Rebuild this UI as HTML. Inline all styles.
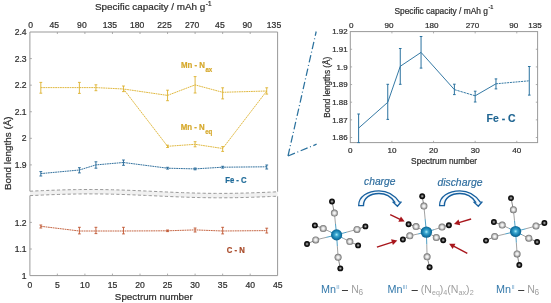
<!DOCTYPE html>
<html><head><meta charset="utf-8"><style>
html,body{margin:0;padding:0;background:#fff;}
svg{display:block;filter:blur(0.4px);}
text{font-family:"Liberation Sans", sans-serif;}
</style></head><body>
<svg width="551" height="303" viewBox="0 0 551 303">
<rect width="551" height="303" fill="#fff"/>
<path d="M29.9,191.22 V32.0 H277.6 V191.80" fill="none" stroke="#999999" stroke-width="1"/>
<path d="M29.9,195.62 V275.6 H277.6 V196.20" fill="none" stroke="#999999" stroke-width="1"/>
<polygon points="29.90,191.22 34.03,191.03 38.16,190.84 42.28,190.66 46.41,190.49 50.54,190.32 54.67,190.17 58.80,190.03 62.93,189.90 67.06,189.79 71.18,189.70 75.31,189.62 79.44,189.56 83.57,189.52 87.70,189.50 91.83,189.50 95.95,189.52 100.08,189.56 104.21,189.61 108.34,189.69 112.47,189.78 116.59,189.89 120.72,190.01 124.85,190.15 128.98,190.30 133.11,190.47 137.24,190.64 141.37,190.82 145.49,191.01 149.62,191.20 153.75,191.39 157.88,191.59 162.01,191.78 166.14,191.97 170.26,192.15 174.39,192.33 178.52,192.50 182.65,192.66 186.78,192.80 190.91,192.94 195.03,193.06 199.16,193.16 203.29,193.24 207.42,193.31 211.55,193.36 215.68,193.39 219.80,193.40 223.93,193.39 228.06,193.36 232.19,193.32 236.32,193.25 240.45,193.17 244.57,193.07 248.70,192.95 252.83,192.82 256.96,192.67 261.09,192.52 265.22,192.35 269.34,192.17 273.47,191.99 277.60,191.80 277.60,196.20 273.47,196.39 269.34,196.57 265.22,196.75 261.09,196.92 256.96,197.07 252.83,197.22 248.70,197.35 244.57,197.47 240.45,197.57 236.32,197.65 232.19,197.72 228.06,197.76 223.93,197.79 219.80,197.80 215.68,197.79 211.55,197.76 207.42,197.71 203.29,197.64 199.16,197.56 195.03,197.46 190.91,197.34 186.78,197.20 182.65,197.06 178.52,196.90 174.39,196.73 170.26,196.55 166.14,196.37 162.01,196.18 157.88,195.99 153.75,195.79 149.62,195.60 145.49,195.41 141.37,195.22 137.24,195.04 133.11,194.87 128.98,194.70 124.85,194.55 120.72,194.41 116.59,194.29 112.47,194.18 108.34,194.09 104.21,194.01 100.08,193.96 95.95,193.92 91.83,193.90 87.70,193.90 83.57,193.92 79.44,193.96 75.31,194.02 71.18,194.10 67.06,194.19 62.93,194.30 58.80,194.43 54.67,194.57 50.54,194.72 46.41,194.89 42.28,195.06 38.16,195.24 34.03,195.43 29.90,195.62" fill="#f1f1f1" stroke="none"/>
<polyline points="29.90,191.22 34.03,191.03 38.16,190.84 42.28,190.66 46.41,190.49 50.54,190.32 54.67,190.17 58.80,190.03 62.93,189.90 67.06,189.79 71.18,189.70 75.31,189.62 79.44,189.56 83.57,189.52 87.70,189.50 91.83,189.50 95.95,189.52 100.08,189.56 104.21,189.61 108.34,189.69 112.47,189.78 116.59,189.89 120.72,190.01 124.85,190.15 128.98,190.30 133.11,190.47 137.24,190.64 141.37,190.82 145.49,191.01 149.62,191.20 153.75,191.39 157.88,191.59 162.01,191.78 166.14,191.97 170.26,192.15 174.39,192.33 178.52,192.50 182.65,192.66 186.78,192.80 190.91,192.94 195.03,193.06 199.16,193.16 203.29,193.24 207.42,193.31 211.55,193.36 215.68,193.39 219.80,193.40 223.93,193.39 228.06,193.36 232.19,193.32 236.32,193.25 240.45,193.17 244.57,193.07 248.70,192.95 252.83,192.82 256.96,192.67 261.09,192.52 265.22,192.35 269.34,192.17 273.47,191.99 277.60,191.80" fill="none" stroke="#9a9a9a" stroke-width="1" stroke-dasharray="3.2,2.2"/>
<polyline points="29.90,195.62 34.03,195.43 38.16,195.24 42.28,195.06 46.41,194.89 50.54,194.72 54.67,194.57 58.80,194.43 62.93,194.30 67.06,194.19 71.18,194.10 75.31,194.02 79.44,193.96 83.57,193.92 87.70,193.90 91.83,193.90 95.95,193.92 100.08,193.96 104.21,194.01 108.34,194.09 112.47,194.18 116.59,194.29 120.72,194.41 124.85,194.55 128.98,194.70 133.11,194.87 137.24,195.04 141.37,195.22 145.49,195.41 149.62,195.60 153.75,195.79 157.88,195.99 162.01,196.18 166.14,196.37 170.26,196.55 174.39,196.73 178.52,196.90 182.65,197.06 186.78,197.20 190.91,197.34 195.03,197.46 199.16,197.56 203.29,197.64 207.42,197.71 211.55,197.76 215.68,197.79 219.80,197.80 223.93,197.79 228.06,197.76 232.19,197.72 236.32,197.65 240.45,197.57 244.57,197.47 248.70,197.35 252.83,197.22 256.96,197.07 261.09,196.92 265.22,196.75 269.34,196.57 273.47,196.39 277.60,196.20" fill="none" stroke="#9a9a9a" stroke-width="1" stroke-dasharray="3.2,2.2"/>
<text x="29.80" y="287.6" font-size="8.6" text-anchor="middle" fill="#2e2e2e" stroke="#2e2e2e" stroke-width="0.22">0</text>
<line x1="57.35" y1="275.6" x2="57.35" y2="273.6" stroke="#999999" stroke-width="0.8"/>
<line x1="57.35" y1="32.0" x2="57.35" y2="34.0" stroke="#999999" stroke-width="0.8"/>
<text x="57.35" y="287.6" font-size="8.6" text-anchor="middle" fill="#2e2e2e" stroke="#2e2e2e" stroke-width="0.22">5</text>
<line x1="84.90" y1="275.6" x2="84.90" y2="273.6" stroke="#999999" stroke-width="0.8"/>
<line x1="84.90" y1="32.0" x2="84.90" y2="34.0" stroke="#999999" stroke-width="0.8"/>
<text x="84.90" y="287.6" font-size="8.6" text-anchor="middle" fill="#2e2e2e" stroke="#2e2e2e" stroke-width="0.22">10</text>
<line x1="112.45" y1="275.6" x2="112.45" y2="273.6" stroke="#999999" stroke-width="0.8"/>
<line x1="112.45" y1="32.0" x2="112.45" y2="34.0" stroke="#999999" stroke-width="0.8"/>
<text x="112.45" y="287.6" font-size="8.6" text-anchor="middle" fill="#2e2e2e" stroke="#2e2e2e" stroke-width="0.22">15</text>
<line x1="140.00" y1="275.6" x2="140.00" y2="273.6" stroke="#999999" stroke-width="0.8"/>
<line x1="140.00" y1="32.0" x2="140.00" y2="34.0" stroke="#999999" stroke-width="0.8"/>
<text x="140.00" y="287.6" font-size="8.6" text-anchor="middle" fill="#2e2e2e" stroke="#2e2e2e" stroke-width="0.22">20</text>
<line x1="167.55" y1="275.6" x2="167.55" y2="273.6" stroke="#999999" stroke-width="0.8"/>
<line x1="167.55" y1="32.0" x2="167.55" y2="34.0" stroke="#999999" stroke-width="0.8"/>
<text x="167.55" y="287.6" font-size="8.6" text-anchor="middle" fill="#2e2e2e" stroke="#2e2e2e" stroke-width="0.22">25</text>
<line x1="195.10" y1="275.6" x2="195.10" y2="273.6" stroke="#999999" stroke-width="0.8"/>
<line x1="195.10" y1="32.0" x2="195.10" y2="34.0" stroke="#999999" stroke-width="0.8"/>
<text x="195.10" y="287.6" font-size="8.6" text-anchor="middle" fill="#2e2e2e" stroke="#2e2e2e" stroke-width="0.22">30</text>
<line x1="222.65" y1="275.6" x2="222.65" y2="273.6" stroke="#999999" stroke-width="0.8"/>
<line x1="222.65" y1="32.0" x2="222.65" y2="34.0" stroke="#999999" stroke-width="0.8"/>
<text x="222.65" y="287.6" font-size="8.6" text-anchor="middle" fill="#2e2e2e" stroke="#2e2e2e" stroke-width="0.22">35</text>
<line x1="250.20" y1="275.6" x2="250.20" y2="273.6" stroke="#999999" stroke-width="0.8"/>
<line x1="250.20" y1="32.0" x2="250.20" y2="34.0" stroke="#999999" stroke-width="0.8"/>
<text x="250.20" y="287.6" font-size="8.6" text-anchor="middle" fill="#2e2e2e" stroke="#2e2e2e" stroke-width="0.22">40</text>
<text x="277.75" y="287.6" font-size="8.6" text-anchor="middle" fill="#2e2e2e" stroke="#2e2e2e" stroke-width="0.22">45</text>
<text x="30.6" y="28.3" font-size="8.6" text-anchor="middle" fill="#2e2e2e" stroke="#2e2e2e" stroke-width="0.22">0</text>
<text x="54.3" y="28.3" font-size="8.6" text-anchor="middle" fill="#2e2e2e" stroke="#2e2e2e" stroke-width="0.22">45</text>
<text x="81.9" y="28.3" font-size="8.6" text-anchor="middle" fill="#2e2e2e" stroke="#2e2e2e" stroke-width="0.22">90</text>
<text x="109.8" y="28.3" font-size="8.6" text-anchor="middle" fill="#2e2e2e" stroke="#2e2e2e" stroke-width="0.22">135</text>
<text x="137.2" y="28.3" font-size="8.6" text-anchor="middle" fill="#2e2e2e" stroke="#2e2e2e" stroke-width="0.22">180</text>
<text x="164.5" y="28.3" font-size="8.6" text-anchor="middle" fill="#2e2e2e" stroke="#2e2e2e" stroke-width="0.22">225</text>
<text x="192.2" y="28.3" font-size="8.6" text-anchor="middle" fill="#2e2e2e" stroke="#2e2e2e" stroke-width="0.22">270</text>
<text x="219.9" y="28.3" font-size="8.6" text-anchor="middle" fill="#2e2e2e" stroke="#2e2e2e" stroke-width="0.22">45</text>
<text x="247.2" y="28.3" font-size="8.6" text-anchor="middle" fill="#2e2e2e" stroke="#2e2e2e" stroke-width="0.22">90</text>
<text x="274.0" y="28.3" font-size="8.6" text-anchor="middle" fill="#2e2e2e" stroke="#2e2e2e" stroke-width="0.22">135</text>
<text x="26.6" y="35.10" font-size="8.6" text-anchor="end" fill="#2e2e2e" stroke="#2e2e2e" stroke-width="0.22">2.4</text>
<line x1="29.9" y1="58.58" x2="31.9" y2="58.58" stroke="#999999" stroke-width="0.8"/>
<text x="26.6" y="61.68" font-size="8.6" text-anchor="end" fill="#2e2e2e" stroke="#2e2e2e" stroke-width="0.22">2.3</text>
<line x1="29.9" y1="85.16" x2="31.9" y2="85.16" stroke="#999999" stroke-width="0.8"/>
<text x="26.6" y="88.26" font-size="8.6" text-anchor="end" fill="#2e2e2e" stroke="#2e2e2e" stroke-width="0.22">2.2</text>
<line x1="29.9" y1="111.74" x2="31.9" y2="111.74" stroke="#999999" stroke-width="0.8"/>
<text x="26.6" y="114.84" font-size="8.6" text-anchor="end" fill="#2e2e2e" stroke="#2e2e2e" stroke-width="0.22">2.1</text>
<line x1="29.9" y1="138.32" x2="31.9" y2="138.32" stroke="#999999" stroke-width="0.8"/>
<text x="26.6" y="141.42" font-size="8.6" text-anchor="end" fill="#2e2e2e" stroke="#2e2e2e" stroke-width="0.22">2</text>
<line x1="29.9" y1="164.90" x2="31.9" y2="164.90" stroke="#999999" stroke-width="0.8"/>
<text x="26.6" y="168.00" font-size="8.6" text-anchor="end" fill="#2e2e2e" stroke="#2e2e2e" stroke-width="0.22">1.9</text>
<line x1="29.9" y1="222.40" x2="31.9" y2="222.40" stroke="#999999" stroke-width="0.8"/>
<text x="26.6" y="225.50" font-size="8.6" text-anchor="end" fill="#2e2e2e" stroke="#2e2e2e" stroke-width="0.22">1.2</text>
<line x1="29.9" y1="249.00" x2="31.9" y2="249.00" stroke="#999999" stroke-width="0.8"/>
<text x="26.6" y="252.10" font-size="8.6" text-anchor="end" fill="#2e2e2e" stroke="#2e2e2e" stroke-width="0.22">1.1</text>
<text x="26.6" y="278.70" font-size="8.6" text-anchor="end" fill="#2e2e2e" stroke="#2e2e2e" stroke-width="0.22">1</text>
<text x="95.0" y="10.4" font-size="9.88" fill="#2e2e2e" stroke="#2e2e2e" stroke-width="0.22">Specific capacity / mAh g<tspan font-size="6.3" dx="0.5" dy="-4.9">-1</tspan></text>
<text x="153.8" y="300.4" font-size="9.8" text-anchor="middle" fill="#2e2e2e" stroke="#2e2e2e" stroke-width="0.22">Spectrum number</text>
<text transform="translate(10.6,153.2) rotate(-90)" font-size="9.9" text-anchor="middle" fill="#2e2e2e" stroke="#2e2e2e" stroke-width="0.22">Bond lengths (Å)</text>
<polyline points="40.82,87.60 79.39,87.60 95.92,87.60 123.47,89.00 167.55,95.40 195.10,84.90 222.65,92.30 266.73,91.00" fill="none" stroke="#DDB12E" stroke-width="1.0" stroke-dasharray="1.8,0.6" opacity="0.9"/>
<path d="M40.82,82.40 V93.20 M39.42,82.40 H42.22 M39.42,93.20 H42.22" stroke="#DDB12E" stroke-width="0.9" fill="none"/>
<path d="M79.39,82.40 V93.40 M77.99,82.40 H80.79 M77.99,93.40 H80.79" stroke="#DDB12E" stroke-width="0.9" fill="none"/>
<path d="M95.92,84.80 V90.70 M94.52,84.80 H97.32 M94.52,90.70 H97.32" stroke="#DDB12E" stroke-width="0.9" fill="none"/>
<path d="M123.47,86.00 V91.60 M122.07,86.00 H124.87 M122.07,91.60 H124.87" stroke="#DDB12E" stroke-width="0.9" fill="none"/>
<path d="M167.55,90.20 V100.70 M166.15,90.20 H168.95 M166.15,100.70 H168.95" stroke="#DDB12E" stroke-width="0.9" fill="none"/>
<path d="M195.10,76.60 V93.00 M193.70,76.60 H196.50 M193.70,93.00 H196.50" stroke="#DDB12E" stroke-width="0.9" fill="none"/>
<path d="M222.65,87.80 V98.90 M221.25,87.80 H224.05 M221.25,98.90 H224.05" stroke="#DDB12E" stroke-width="0.9" fill="none"/>
<path d="M266.73,87.80 V94.10 M265.33,87.80 H268.13 M265.33,94.10 H268.13" stroke="#DDB12E" stroke-width="0.9" fill="none"/>
<polyline points="123.47,89.00 167.55,146.30 195.10,144.30 222.65,148.50 266.73,91.00" fill="none" stroke="#DDB12E" stroke-width="1.0" stroke-dasharray="1.8,0.6" opacity="0.9"/>
<path d="M167.55,145.20 V147.50 M166.15,145.20 H168.95 M166.15,147.50 H168.95" stroke="#DDB12E" stroke-width="0.9" fill="none"/>
<path d="M195.10,141.70 V146.80 M193.70,141.70 H196.50 M193.70,146.80 H196.50" stroke="#DDB12E" stroke-width="0.9" fill="none"/>
<path d="M222.65,146.60 V151.40 M221.25,146.60 H224.05 M221.25,151.40 H224.05" stroke="#DDB12E" stroke-width="0.9" fill="none"/>
<polyline points="40.82,173.60 79.39,170.00 95.92,164.90 123.47,162.50 167.55,168.20 195.10,168.90 222.65,167.20 266.73,166.80" fill="none" stroke="#1f6495" stroke-width="1.0" stroke-dasharray="1.8,0.6" opacity="0.9"/>
<path d="M40.82,171.60 V176.00 M39.42,171.60 H42.22 M39.42,176.00 H42.22" stroke="#1f6495" stroke-width="0.9" fill="none"/>
<path d="M79.39,167.70 V172.90 M77.99,167.70 H80.79 M77.99,172.90 H80.79" stroke="#1f6495" stroke-width="0.9" fill="none"/>
<path d="M95.92,161.80 V168.20 M94.52,161.80 H97.32 M94.52,168.20 H97.32" stroke="#1f6495" stroke-width="0.9" fill="none"/>
<path d="M123.47,160.00 V165.30 M122.07,160.00 H124.87 M122.07,165.30 H124.87" stroke="#1f6495" stroke-width="0.9" fill="none"/>
<path d="M167.55,167.30 V169.10 M166.15,167.30 H168.95 M166.15,169.10 H168.95" stroke="#1f6495" stroke-width="0.9" fill="none"/>
<path d="M195.10,168.00 V169.80 M193.70,168.00 H196.50 M193.70,169.80 H196.50" stroke="#1f6495" stroke-width="0.9" fill="none"/>
<path d="M222.65,166.30 V168.10 M221.25,166.30 H224.05 M221.25,168.10 H224.05" stroke="#1f6495" stroke-width="0.9" fill="none"/>
<path d="M266.73,165.00 V169.00 M265.33,165.00 H268.13 M265.33,169.00 H268.13" stroke="#1f6495" stroke-width="0.9" fill="none"/>
<polyline points="40.82,226.30 79.39,231.00 95.92,231.00 123.47,231.00 167.55,230.80 195.10,229.90 222.65,231.00 266.73,230.60" fill="none" stroke="#bf5530" stroke-width="1.0" stroke-dasharray="1.8,0.6" opacity="0.9"/>
<path d="M40.82,225.00 V228.00 M39.42,225.00 H42.22 M39.42,228.00 H42.22" stroke="#bf5530" stroke-width="0.9" fill="none"/>
<path d="M79.39,227.30 V233.90 M77.99,227.30 H80.79 M77.99,233.90 H80.79" stroke="#bf5530" stroke-width="0.9" fill="none"/>
<path d="M95.92,227.30 V233.60 M94.52,227.30 H97.32 M94.52,233.60 H97.32" stroke="#bf5530" stroke-width="0.9" fill="none"/>
<path d="M123.47,227.30 V233.90 M122.07,227.30 H124.87 M122.07,233.90 H124.87" stroke="#bf5530" stroke-width="0.9" fill="none"/>
<path d="M167.55,230.00 V231.60 M166.15,230.00 H168.95 M166.15,231.60 H168.95" stroke="#bf5530" stroke-width="0.9" fill="none"/>
<path d="M195.10,228.00 V232.00 M193.70,228.00 H196.50 M193.70,232.00 H196.50" stroke="#bf5530" stroke-width="0.9" fill="none"/>
<path d="M222.65,227.30 V233.90 M221.25,227.30 H224.05 M221.25,233.90 H224.05" stroke="#bf5530" stroke-width="0.9" fill="none"/>
<path d="M266.73,228.20 V233.00 M265.33,228.20 H268.13 M265.33,233.00 H268.13" stroke="#bf5530" stroke-width="0.9" fill="none"/>
<g transform="translate(180.9,67.9) scale(0.97,1.1)"><text x="0" y="0" font-size="8.1" font-weight="bold" fill="#D6A92C" stroke="#D6A92C" stroke-width="0.2">Mn - N<tspan font-size="6.3" dx="0.6" dy="3.7">ax</tspan></text></g>
<g transform="translate(180.7,129.9) scale(0.97,1.1)"><text x="0" y="0" font-size="8.1" font-weight="bold" fill="#D6A92C" stroke="#D6A92C" stroke-width="0.2">Mn - N<tspan font-size="6.3" dx="0.5" dy="3.4">eq</tspan></text></g>
<g transform="translate(225.2,182.5) scale(0.98,1.1)"><text x="0" y="0" font-size="7.9" font-weight="bold" fill="#1e6a98" stroke="#1e6a98" stroke-width="0.2">Fe - C</text></g>
<g transform="translate(226.7,253.4) scale(0.98,1.1)"><text x="0" y="0" font-size="7.9" font-weight="bold" fill="#a94b2a" stroke="#a94b2a" stroke-width="0.2">C - N</text></g>
<rect x="350.3" y="31.6" width="187.30" height="111.00" fill="none" stroke="#999999" stroke-width="1"/>
<text x="350.30" y="153.4" font-size="8.1" text-anchor="middle" fill="#2e2e2e" stroke="#2e2e2e" stroke-width="0.22">0</text>
<line x1="391.92" y1="142.6" x2="391.92" y2="140.79999999999998" stroke="#999999" stroke-width="0.8"/>
<line x1="391.92" y1="31.6" x2="391.92" y2="33.4" stroke="#999999" stroke-width="0.8"/>
<text x="391.92" y="153.4" font-size="8.1" text-anchor="middle" fill="#2e2e2e" stroke="#2e2e2e" stroke-width="0.22">10</text>
<line x1="433.54" y1="142.6" x2="433.54" y2="140.79999999999998" stroke="#999999" stroke-width="0.8"/>
<line x1="433.54" y1="31.6" x2="433.54" y2="33.4" stroke="#999999" stroke-width="0.8"/>
<text x="433.54" y="153.4" font-size="8.1" text-anchor="middle" fill="#2e2e2e" stroke="#2e2e2e" stroke-width="0.22">20</text>
<line x1="475.17" y1="142.6" x2="475.17" y2="140.79999999999998" stroke="#999999" stroke-width="0.8"/>
<line x1="475.17" y1="31.6" x2="475.17" y2="33.4" stroke="#999999" stroke-width="0.8"/>
<text x="475.17" y="153.4" font-size="8.1" text-anchor="middle" fill="#2e2e2e" stroke="#2e2e2e" stroke-width="0.22">30</text>
<line x1="516.79" y1="142.6" x2="516.79" y2="140.79999999999998" stroke="#999999" stroke-width="0.8"/>
<line x1="516.79" y1="31.6" x2="516.79" y2="33.4" stroke="#999999" stroke-width="0.8"/>
<text x="516.79" y="153.4" font-size="8.1" text-anchor="middle" fill="#2e2e2e" stroke="#2e2e2e" stroke-width="0.22">40</text>
<text x="351.2" y="28.4" font-size="8.1" text-anchor="middle" fill="#2e2e2e" stroke="#2e2e2e" stroke-width="0.22">0</text>
<text x="389.0" y="28.4" font-size="8.1" text-anchor="middle" fill="#2e2e2e" stroke="#2e2e2e" stroke-width="0.22">90</text>
<text x="431.7" y="28.4" font-size="8.1" text-anchor="middle" fill="#2e2e2e" stroke="#2e2e2e" stroke-width="0.22">180</text>
<text x="472.6" y="28.4" font-size="8.1" text-anchor="middle" fill="#2e2e2e" stroke="#2e2e2e" stroke-width="0.22">270</text>
<text x="513.8" y="28.4" font-size="8.1" text-anchor="middle" fill="#2e2e2e" stroke="#2e2e2e" stroke-width="0.22">90</text>
<text x="534.9" y="28.4" font-size="8.1" text-anchor="middle" fill="#2e2e2e" stroke="#2e2e2e" stroke-width="0.22">135</text>
<text x="347.6" y="34.45" font-size="7.9" text-anchor="end" fill="#2e2e2e" stroke="#2e2e2e" stroke-width="0.22">1.92</text>
<line x1="350.3" y1="49.25" x2="352.1" y2="49.25" stroke="#999999" stroke-width="0.8"/>
<line x1="537.6" y1="49.25" x2="535.8000000000001" y2="49.25" stroke="#999999" stroke-width="0.8"/>
<text x="347.6" y="52.10" font-size="7.9" text-anchor="end" fill="#2e2e2e" stroke="#2e2e2e" stroke-width="0.22">1.91</text>
<line x1="350.3" y1="66.90" x2="352.1" y2="66.90" stroke="#999999" stroke-width="0.8"/>
<line x1="537.6" y1="66.90" x2="535.8000000000001" y2="66.90" stroke="#999999" stroke-width="0.8"/>
<text x="347.6" y="69.75" font-size="7.9" text-anchor="end" fill="#2e2e2e" stroke="#2e2e2e" stroke-width="0.22">1.9</text>
<line x1="350.3" y1="84.55" x2="352.1" y2="84.55" stroke="#999999" stroke-width="0.8"/>
<line x1="537.6" y1="84.55" x2="535.8000000000001" y2="84.55" stroke="#999999" stroke-width="0.8"/>
<text x="347.6" y="87.40" font-size="7.9" text-anchor="end" fill="#2e2e2e" stroke="#2e2e2e" stroke-width="0.22">1.89</text>
<line x1="350.3" y1="102.20" x2="352.1" y2="102.20" stroke="#999999" stroke-width="0.8"/>
<line x1="537.6" y1="102.20" x2="535.8000000000001" y2="102.20" stroke="#999999" stroke-width="0.8"/>
<text x="347.6" y="105.05" font-size="7.9" text-anchor="end" fill="#2e2e2e" stroke="#2e2e2e" stroke-width="0.22">1.88</text>
<line x1="350.3" y1="119.85" x2="352.1" y2="119.85" stroke="#999999" stroke-width="0.8"/>
<line x1="537.6" y1="119.85" x2="535.8000000000001" y2="119.85" stroke="#999999" stroke-width="0.8"/>
<text x="347.6" y="122.70" font-size="7.9" text-anchor="end" fill="#2e2e2e" stroke="#2e2e2e" stroke-width="0.22">1.87</text>
<line x1="350.3" y1="137.50" x2="352.1" y2="137.50" stroke="#999999" stroke-width="0.8"/>
<line x1="537.6" y1="137.50" x2="535.8000000000001" y2="137.50" stroke="#999999" stroke-width="0.8"/>
<text x="347.6" y="140.35" font-size="7.9" text-anchor="end" fill="#2e2e2e" stroke="#2e2e2e" stroke-width="0.22">1.86</text>
<text x="394.4" y="14.0" font-size="8.38" fill="#2e2e2e" stroke="#2e2e2e" stroke-width="0.22">Specific capacity / mAh g<tspan font-size="5.6" dx="0.5" dy="-5.3">-1</tspan></text>
<text x="444.1" y="163.7" font-size="8.3" text-anchor="middle" fill="#2e2e2e" stroke="#2e2e2e" stroke-width="0.22">Spectrum number</text>
<text transform="translate(329.6,87.3) rotate(-90)" font-size="8.2" text-anchor="middle" fill="#2e2e2e" stroke="#2e2e2e" stroke-width="0.22">Bond lengths (Å)</text>
<polyline points="358.62,128.10 387.76,102.30 400.25,66.30 421.06,52.40 454.36,89.60" fill="none" stroke="#2a729f" stroke-width="0.95"/>
<polyline points="454.36,89.60 475.17,95.80" fill="none" stroke="#2a729f" stroke-width="0.95" stroke-dasharray="2.4,0.8"/>
<polyline points="475.17,95.80 495.98,83.80" fill="none" stroke="#2a729f" stroke-width="0.95"/>
<polyline points="495.98,83.80 529.28,80.80" fill="none" stroke="#2a729f" stroke-width="0.95" stroke-dasharray="2,0.8"/>
<path d="M358.62,114.00 V142.60 M357.32,114.00 H359.92 M357.32,142.60 H359.92" stroke="#2a729f" stroke-width="1" fill="none"/>
<path d="M387.76,84.30 V119.40 M386.46,84.30 H389.06 M386.46,119.40 H389.06" stroke="#2a729f" stroke-width="1" fill="none"/>
<path d="M400.25,48.50 V84.30 M398.95,48.50 H401.55 M398.95,84.30 H401.55" stroke="#2a729f" stroke-width="1" fill="none"/>
<path d="M421.06,36.50 V68.10 M419.76,36.50 H422.36 M419.76,68.10 H422.36" stroke="#2a729f" stroke-width="1" fill="none"/>
<path d="M454.36,84.20 V94.60 M453.06,84.20 H455.66 M453.06,94.60 H455.66" stroke="#2a729f" stroke-width="1" fill="none"/>
<path d="M475.17,91.20 V102.00 M473.87,91.20 H476.47 M473.87,102.00 H476.47" stroke="#2a729f" stroke-width="1" fill="none"/>
<path d="M495.98,78.90 V88.90 M494.68,78.90 H497.28 M494.68,88.90 H497.28" stroke="#2a729f" stroke-width="1" fill="none"/>
<path d="M529.28,66.50 V95.10 M527.98,66.50 H530.58 M527.98,95.10 H530.58" stroke="#2a729f" stroke-width="1" fill="none"/>
<text x="486.6" y="122.4" font-size="10.45" font-weight="bold" fill="#1f6592" stroke="#1f6592" stroke-width="0.15">Fe - C</text>
<path d="M288,156 L316.2,31.5 M288,156 L316.6,144.2" fill="none" stroke="#2c729e" stroke-width="1.25" stroke-dasharray="7.5,2.6,1,2.6"/>
<defs>
<radialGradient id="gMn" cx="0.5" cy="0.48" r="0.55"><stop offset="0" stop-color="#aaeefa"/><stop offset="0.3" stop-color="#3aa6d0"/><stop offset="0.68" stop-color="#147bab"/><stop offset="1" stop-color="#0d5883"/></radialGradient>
<radialGradient id="gN" cx="0.5" cy="0.5" r="0.55"><stop offset="0" stop-color="#fdfdfd"/><stop offset="0.35" stop-color="#e4e4e4"/><stop offset="0.7" stop-color="#9a9a9a"/><stop offset="1" stop-color="#555"/></radialGradient>
<radialGradient id="gC" cx="0.5" cy="0.5" r="0.55"><stop offset="0" stop-color="#c8c8c8"/><stop offset="0.28" stop-color="#6a6a6a"/><stop offset="0.55" stop-color="#161616"/><stop offset="1" stop-color="#000"/></radialGradient>
</defs>
<line x1="336.60" y1="234.90" x2="335.50" y2="224.00" stroke="#2f8db8" stroke-width="0.85"/>
<line x1="335.50" y1="224.00" x2="334.40" y2="213.10" stroke="#8a8a8a" stroke-width="0.8"/>
<line x1="334.40" y1="213.10" x2="332.00" y2="201.50" stroke="#6a6a6a" stroke-width="0.8"/>
<line x1="336.60" y1="234.90" x2="329.90" y2="231.70" stroke="#2f8db8" stroke-width="0.85"/>
<line x1="329.90" y1="231.70" x2="323.20" y2="228.50" stroke="#8a8a8a" stroke-width="0.8"/>
<line x1="323.20" y1="228.50" x2="314.90" y2="225.40" stroke="#6a6a6a" stroke-width="0.8"/>
<line x1="336.60" y1="234.90" x2="326.15" y2="237.40" stroke="#2f8db8" stroke-width="0.85"/>
<line x1="326.15" y1="237.40" x2="315.70" y2="239.90" stroke="#8a8a8a" stroke-width="0.8"/>
<line x1="315.70" y1="239.90" x2="307.00" y2="244.00" stroke="#6a6a6a" stroke-width="0.8"/>
<line x1="336.60" y1="234.90" x2="346.80" y2="232.15" stroke="#2f8db8" stroke-width="0.85"/>
<line x1="346.80" y1="232.15" x2="357.00" y2="229.40" stroke="#8a8a8a" stroke-width="0.8"/>
<line x1="357.00" y1="229.40" x2="365.40" y2="226.40" stroke="#6a6a6a" stroke-width="0.8"/>
<line x1="336.60" y1="234.90" x2="343.20" y2="238.25" stroke="#2f8db8" stroke-width="0.85"/>
<line x1="343.20" y1="238.25" x2="349.80" y2="241.60" stroke="#8a8a8a" stroke-width="0.8"/>
<line x1="349.80" y1="241.60" x2="358.10" y2="245.40" stroke="#6a6a6a" stroke-width="0.8"/>
<line x1="336.60" y1="234.90" x2="337.35" y2="246.10" stroke="#2f8db8" stroke-width="0.85"/>
<line x1="337.35" y1="246.10" x2="338.10" y2="257.30" stroke="#8a8a8a" stroke-width="0.8"/>
<line x1="338.10" y1="257.30" x2="340.30" y2="268.40" stroke="#6a6a6a" stroke-width="0.8"/>
<circle cx="332.00" cy="201.50" r="2.95" fill="url(#gC)"/>
<circle cx="314.90" cy="225.40" r="2.95" fill="url(#gC)"/>
<circle cx="307.00" cy="244.00" r="2.95" fill="url(#gC)"/>
<circle cx="365.40" cy="226.40" r="2.95" fill="url(#gC)"/>
<circle cx="358.10" cy="245.40" r="2.95" fill="url(#gC)"/>
<circle cx="340.30" cy="268.40" r="2.95" fill="url(#gC)"/>
<circle cx="334.40" cy="213.10" r="3.5" fill="url(#gN)"/>
<circle cx="323.20" cy="228.50" r="3.5" fill="url(#gN)"/>
<circle cx="315.70" cy="239.90" r="3.5" fill="url(#gN)"/>
<circle cx="357.00" cy="229.40" r="3.5" fill="url(#gN)"/>
<circle cx="349.80" cy="241.60" r="3.5" fill="url(#gN)"/>
<circle cx="338.10" cy="257.30" r="3.5" fill="url(#gN)"/>
<circle cx="336.60" cy="234.90" r="5.6" fill="url(#gMn)"/>
<line x1="426.40" y1="232.10" x2="425.15" y2="219.10" stroke="#2f8db8" stroke-width="0.85"/>
<line x1="425.15" y1="219.10" x2="423.90" y2="206.10" stroke="#8a8a8a" stroke-width="0.8"/>
<line x1="423.90" y1="206.10" x2="422.20" y2="196.20" stroke="#6a6a6a" stroke-width="0.8"/>
<line x1="426.40" y1="232.10" x2="421.20" y2="229.35" stroke="#2f8db8" stroke-width="0.85"/>
<line x1="421.20" y1="229.35" x2="416.00" y2="226.60" stroke="#8a8a8a" stroke-width="0.8"/>
<line x1="416.00" y1="226.60" x2="408.60" y2="224.20" stroke="#6a6a6a" stroke-width="0.8"/>
<line x1="426.40" y1="232.10" x2="418.10" y2="233.95" stroke="#2f8db8" stroke-width="0.85"/>
<line x1="418.10" y1="233.95" x2="409.80" y2="235.80" stroke="#8a8a8a" stroke-width="0.8"/>
<line x1="409.80" y1="235.80" x2="402.90" y2="239.50" stroke="#6a6a6a" stroke-width="0.8"/>
<line x1="426.40" y1="232.10" x2="434.20" y2="229.60" stroke="#2f8db8" stroke-width="0.85"/>
<line x1="434.20" y1="229.60" x2="442.00" y2="227.10" stroke="#8a8a8a" stroke-width="0.8"/>
<line x1="442.00" y1="227.10" x2="448.90" y2="225.20" stroke="#6a6a6a" stroke-width="0.8"/>
<line x1="426.40" y1="232.10" x2="431.35" y2="234.80" stroke="#2f8db8" stroke-width="0.85"/>
<line x1="431.35" y1="234.80" x2="436.30" y2="237.50" stroke="#8a8a8a" stroke-width="0.8"/>
<line x1="436.30" y1="237.50" x2="443.20" y2="240.20" stroke="#6a6a6a" stroke-width="0.8"/>
<line x1="426.40" y1="232.10" x2="426.75" y2="244.45" stroke="#2f8db8" stroke-width="0.85"/>
<line x1="426.75" y1="244.45" x2="427.10" y2="256.80" stroke="#8a8a8a" stroke-width="0.8"/>
<line x1="427.10" y1="256.80" x2="429.60" y2="267.20" stroke="#6a6a6a" stroke-width="0.8"/>
<circle cx="422.20" cy="196.20" r="2.95" fill="url(#gC)"/>
<circle cx="408.60" cy="224.20" r="2.95" fill="url(#gC)"/>
<circle cx="402.90" cy="239.50" r="2.95" fill="url(#gC)"/>
<circle cx="448.90" cy="225.20" r="2.95" fill="url(#gC)"/>
<circle cx="443.20" cy="240.20" r="2.95" fill="url(#gC)"/>
<circle cx="429.60" cy="267.20" r="2.95" fill="url(#gC)"/>
<circle cx="423.90" cy="206.10" r="3.5" fill="url(#gN)"/>
<circle cx="416.00" cy="226.60" r="3.5" fill="url(#gN)"/>
<circle cx="409.80" cy="235.80" r="3.5" fill="url(#gN)"/>
<circle cx="442.00" cy="227.10" r="3.5" fill="url(#gN)"/>
<circle cx="436.30" cy="237.50" r="3.5" fill="url(#gN)"/>
<circle cx="427.10" cy="256.80" r="3.5" fill="url(#gN)"/>
<circle cx="426.40" cy="232.10" r="5.7" fill="url(#gMn)"/>
<line x1="515.60" y1="231.50" x2="514.50" y2="220.60" stroke="#2f8db8" stroke-width="0.85"/>
<line x1="514.50" y1="220.60" x2="513.40" y2="209.70" stroke="#8a8a8a" stroke-width="0.8"/>
<line x1="513.40" y1="209.70" x2="511.00" y2="198.10" stroke="#6a6a6a" stroke-width="0.8"/>
<line x1="515.60" y1="231.50" x2="508.90" y2="228.30" stroke="#2f8db8" stroke-width="0.85"/>
<line x1="508.90" y1="228.30" x2="502.20" y2="225.10" stroke="#8a8a8a" stroke-width="0.8"/>
<line x1="502.20" y1="225.10" x2="493.90" y2="222.00" stroke="#6a6a6a" stroke-width="0.8"/>
<line x1="515.60" y1="231.50" x2="505.15" y2="234.00" stroke="#2f8db8" stroke-width="0.85"/>
<line x1="505.15" y1="234.00" x2="494.70" y2="236.50" stroke="#8a8a8a" stroke-width="0.8"/>
<line x1="494.70" y1="236.50" x2="486.00" y2="240.60" stroke="#6a6a6a" stroke-width="0.8"/>
<line x1="515.60" y1="231.50" x2="525.80" y2="228.75" stroke="#2f8db8" stroke-width="0.85"/>
<line x1="525.80" y1="228.75" x2="536.00" y2="226.00" stroke="#8a8a8a" stroke-width="0.8"/>
<line x1="536.00" y1="226.00" x2="544.40" y2="223.00" stroke="#6a6a6a" stroke-width="0.8"/>
<line x1="515.60" y1="231.50" x2="522.20" y2="234.85" stroke="#2f8db8" stroke-width="0.85"/>
<line x1="522.20" y1="234.85" x2="528.80" y2="238.20" stroke="#8a8a8a" stroke-width="0.8"/>
<line x1="528.80" y1="238.20" x2="537.10" y2="242.00" stroke="#6a6a6a" stroke-width="0.8"/>
<line x1="515.60" y1="231.50" x2="516.35" y2="242.70" stroke="#2f8db8" stroke-width="0.85"/>
<line x1="516.35" y1="242.70" x2="517.10" y2="253.90" stroke="#8a8a8a" stroke-width="0.8"/>
<line x1="517.10" y1="253.90" x2="519.30" y2="265.00" stroke="#6a6a6a" stroke-width="0.8"/>
<circle cx="511.00" cy="198.10" r="2.95" fill="url(#gC)"/>
<circle cx="493.90" cy="222.00" r="2.95" fill="url(#gC)"/>
<circle cx="486.00" cy="240.60" r="2.95" fill="url(#gC)"/>
<circle cx="544.40" cy="223.00" r="2.95" fill="url(#gC)"/>
<circle cx="537.10" cy="242.00" r="2.95" fill="url(#gC)"/>
<circle cx="519.30" cy="265.00" r="2.95" fill="url(#gC)"/>
<circle cx="513.40" cy="209.70" r="3.5" fill="url(#gN)"/>
<circle cx="502.20" cy="225.10" r="3.5" fill="url(#gN)"/>
<circle cx="494.70" cy="236.50" r="3.5" fill="url(#gN)"/>
<circle cx="536.00" cy="226.00" r="3.5" fill="url(#gN)"/>
<circle cx="528.80" cy="238.20" r="3.5" fill="url(#gN)"/>
<circle cx="517.10" cy="253.90" r="3.5" fill="url(#gN)"/>
<circle cx="515.60" cy="231.50" r="5.6" fill="url(#gMn)"/>
<line x1="390.20" y1="214.60" x2="400.09" y2="219.31" stroke="#a8161c" stroke-width="1.4"/>
<polygon points="404.70,221.50 398.35,221.80 400.93,216.38" fill="#a8161c"/>
<line x1="376.90" y1="247.10" x2="392.45" y2="242.07" stroke="#a8161c" stroke-width="1.4"/>
<polygon points="397.30,240.50 392.90,245.08 391.05,239.37" fill="#a8161c"/>
<line x1="471.10" y1="219.00" x2="458.90" y2="222.57" stroke="#a8161c" stroke-width="1.4"/>
<polygon points="454.00,224.00 458.53,219.55 460.22,225.31" fill="#a8161c"/>
<line x1="467.30" y1="253.30" x2="453.62" y2="246.16" stroke="#a8161c" stroke-width="1.4"/>
<polygon points="449.10,243.80 455.45,243.73 452.68,249.05" fill="#a8161c"/>
<path d="M358.70,205.65 C358.40,196.45 368.00,190.85 379.00,190.85 C388.20,190.85 395.00,195.85 399.20,201.95 L400.90,202.15 L397.40,206.25 L393.20,202.25 L394.70,202.05 C391.60,197.35 386.20,193.45 379.00,193.45 C370.40,193.45 363.20,197.75 363.50,205.65 Z" fill="#f4f9fd" stroke="#17609f" stroke-width="1.35" stroke-linejoin="miter"/>
<path d="M439.60,205.65 C439.30,196.45 448.90,190.85 459.90,190.85 C469.10,190.85 475.90,195.85 480.10,201.95 L481.80,202.15 L478.30,206.25 L474.10,202.25 L475.60,202.05 C472.50,197.35 467.10,193.45 459.90,193.45 C451.30,193.45 444.10,197.75 444.40,205.65 Z" fill="#f4f9fd" stroke="#17609f" stroke-width="1.35" stroke-linejoin="miter"/>
<text x="364.0" y="185.0" font-size="10.3" font-style="italic" fill="#2f6e9f" stroke="#2f6e9f" stroke-width="0.18">charge</text>
<text x="437.4" y="185.6" font-size="10.4" font-style="italic" fill="#2f6e9f" stroke="#2f6e9f" stroke-width="0.18">discharge</text>
<text x="321.00" y="293.1" font-size="10.8" fill="#3479ab">Mn</text>
<text x="336.30" y="289.0" font-size="5.8" fill="#6ea4cb">II</text>
<text x="342.10" y="293.1" font-size="10.6" fill="#222" stroke="#222" stroke-width="0.1">–</text>
<text x="351.20" y="293.1" font-size="10.6" fill="#a0a0a0">N</text>
<text x="358.50" y="295.2" font-size="8.3" fill="#a0a0a0">6</text>
<text x="496.10" y="293.1" font-size="10.8" fill="#3479ab">Mn</text>
<text x="511.40" y="289.0" font-size="5.8" fill="#6ea4cb">II</text>
<text x="518.20" y="293.1" font-size="10.6" fill="#222" stroke="#222" stroke-width="0.1">–</text>
<text x="527.30" y="293.1" font-size="10.6" fill="#a0a0a0">N</text>
<text x="534.60" y="295.2" font-size="8.3" fill="#a0a0a0">6</text>
<text x="387.40" y="293.1" font-size="10.8" fill="#3479ab">Mn</text>
<text x="402.40" y="289.0" font-size="5.8" fill="#6ea4cb">III</text>
<text x="411.80" y="293.1" font-size="10.6" fill="#222" stroke="#222" stroke-width="0.1">–</text>
<text x="420.80" y="293.1" font-size="10.6" fill="#a0a0a0">(N<tspan font-size="7.0" dy="2.3">eq</tspan><tspan dy="-2.3">)</tspan><tspan font-size="7.2" dy="2.3">4</tspan><tspan dy="-2.3">(N</tspan><tspan font-size="7.2" dy="2.3">ax</tspan><tspan dy="-2.3">)</tspan><tspan font-size="7.2" dy="2.3">2</tspan></text>
</svg>
</body></html>
